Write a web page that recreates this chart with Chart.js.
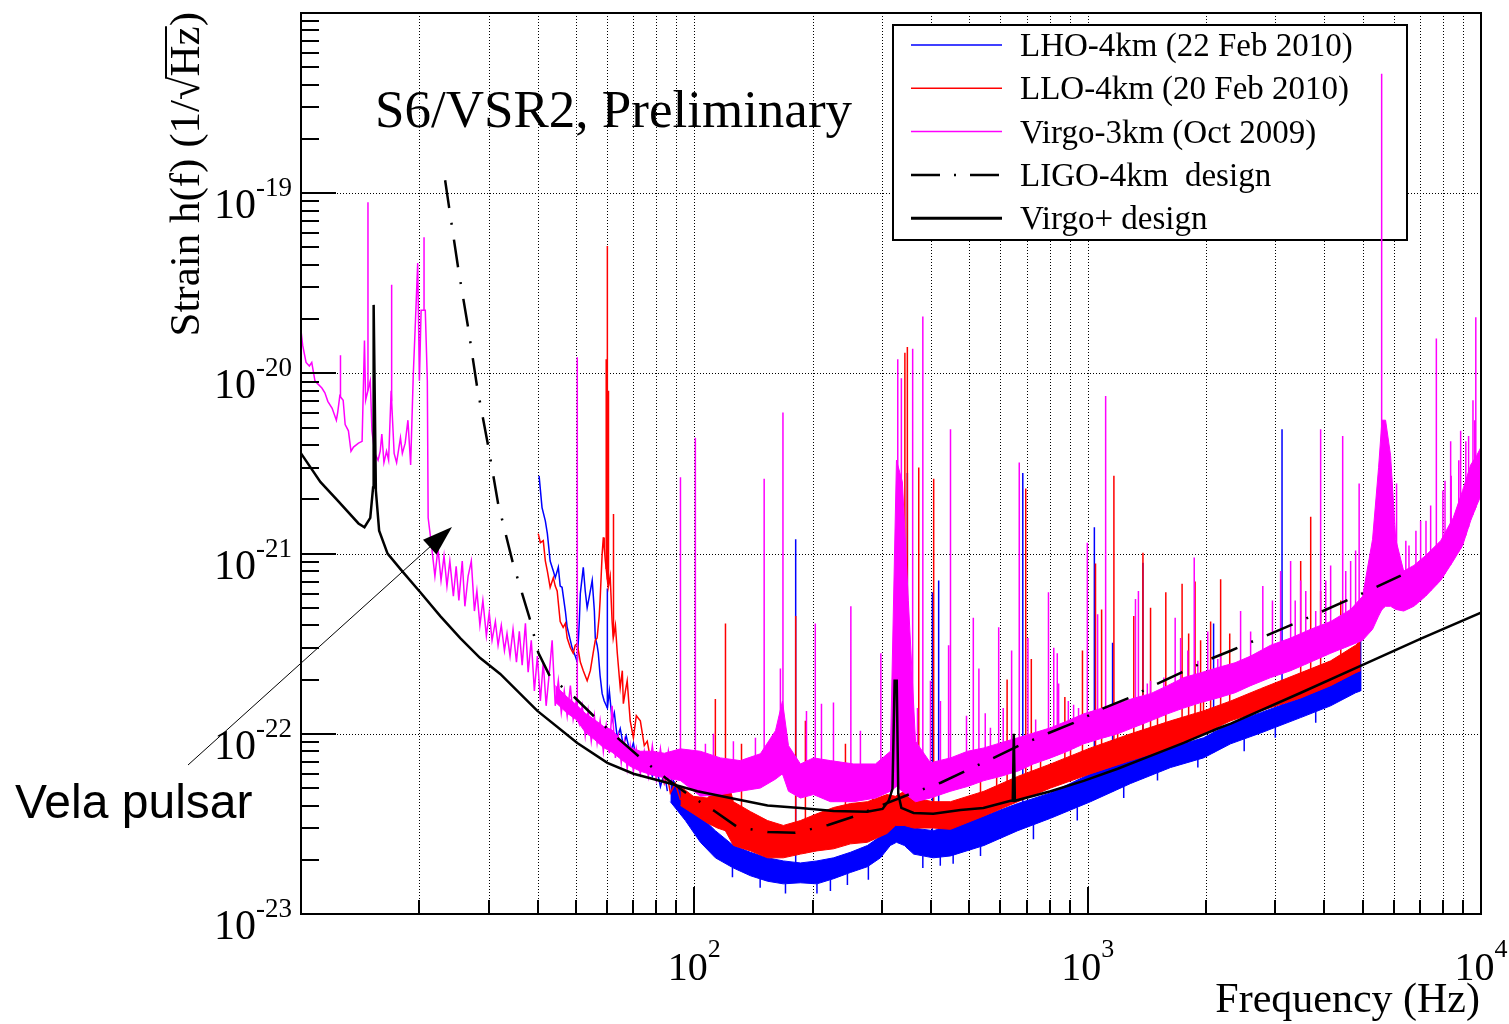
<!DOCTYPE html>
<html>
<head>
<meta charset="utf-8">
<title>S6/VSR2 strain sensitivity</title>
<script src="https://cdn.jsdelivr.net/npm/chart.js@4.4.0/dist/chart.umd.min.js"></script>
<style>
  html, body { margin: 0; padding: 0; background: #fff; }
  #wrap { width: 1509px; height: 1024px; }
</style>
</head>
<body>
<div id="wrap"><canvas id="c" width="1509" height="1024"></canvas></div>
<script>
// values (Hz, strain 1/sqrt(Hz))

// LHO-4km: thin trace up to ~85 Hz, then a noise band, plus narrow lines
const lhoTraceHz = [40.3, 41.0, 41.8, 42.3, 43.0, 43.8, 44.3, 45.1, 45.6, 46.1, 47.0, 47.5, 48.4, 48.9, 49.8, 50.4, 51.0, 51.3, 51.9, 52.2, 52.8, 53.4, 54.1, 55.0, 55.7, 56.0, 56.6, 57.0, 57.6, 58.3, 59.0, 60.1, 60.8, 61.8, 62.6, 63.7, 64.8, 66.0, 67.1, 68.7, 70.0, 71.2, 72.9, 74.6, 76.4, 78.2, 80.0, 82.0, 83.9, 85.4];
const lhoTrace = [2.7e-21, 1.8e-21, 1.52e-21, 1.29e-21, 9.1e-22, 8.0e-22, 7.35e-22, 8.4e-22, 6.6e-22, 6.5e-22, 4.8e-22, 3.9e-22, 3.3e-22, 3.0e-22, 2.7e-22, 2.5e-22, 4.2e-22, 6.0e-22, 7.5e-22, 8.4e-22, 6.2e-22, 5.0e-22, 5.8e-22, 7.1e-22, 4.8e-22, 3.4e-22, 3.1e-22, 2.8e-22, 2.1e-22, 1.67e-22, 1.52e-22, 1.39e-22, 1.73e-22, 1.18e-22, 1.31e-22, 9.5e-23, 1.07e-22, 8.6e-23, 9.75e-23, 7.8e-23, 8.9e-23, 7.1e-23, 7.8e-23, 6.4e-23, 7.3e-23, 5.8e-23, 6.6e-23, 5.1e-23, 6.1e-23, 4.8e-23];
const lhoHz = [86.9, 94.9, 103.6, 113.1, 125.7, 138.9, 153.5, 168.4, 186.1, 205, 226, 249.4, 275.5, 297.3, 315, 326.5, 342, 361, 405, 448, 545, 664, 805, 1017, 1286, 1625, 1970, 2309, 2752, 3479, 4147, 4800, 4943];
const lhoHigh = [5.8e-23, 4.5e-23, 3.5e-23, 2.9e-23, 2.4e-23, 2.2e-23, 2.05e-23, 1.97e-23, 1.92e-23, 1.97e-23, 2.05e-23, 2.2e-23, 2.4e-23, 2.7e-23, 3.3e-23, 4.2e-23, 3.6e-23, 3.0e-23, 2.9e-23, 3.1e-23, 3.5e-23, 4.1e-23, 4.7e-23, 6.0e-23, 7.1e-23, 8.4e-23, 9.5e-23, 1.14e-22, 1.31e-22, 1.58e-22, 1.9e-22, 2.3e-22, 2.7e-22];
const lhoLow = [4.2e-23, 3.3e-23, 2.5e-23, 2.05e-23, 1.8e-23, 1.63e-23, 1.52e-23, 1.47e-23, 1.49e-23, 1.47e-23, 1.57e-23, 1.7e-23, 1.83e-23, 2.05e-23, 2.4e-23, 2.5e-23, 2.4e-23, 2.15e-23, 2.05e-23, 2.1e-23, 2.4e-23, 2.9e-23, 3.4e-23, 4.2e-23, 5.3e-23, 6.5e-23, 7.35e-23, 8.8e-23, 1.01e-22, 1.23e-22, 1.43e-22, 1.69e-22, 1.73e-22];
const lhoLineHz = [60.1, 181, 348, 403, 418, 684, 1040, 1157, 1382, 2090, 3120, 4943, 125, 147, 170.5, 205, 221.8, 245, 277, 381, 422, 455, 534, 728, 941, 1235, 1505, 1906, 2500, 3000, 3800];
const lhoLineTop = [6.4e-22, 1.2e-21, 2.8e-21, 6.1e-22, 7.1e-22, 2.8e-21, 1.4e-21, 3.2e-22, 8.9e-22, 4.1e-22, 4.9e-21, 4.5e-22, 1.6e-23, 1.4e-23, 1.3e-23, 1.3e-23, 1.34e-23, 1.45e-23, 1.55e-23, 1.8e-23, 1.85e-23, 1.9e-23, 2.1e-23, 2.6e-23, 3.3e-23, 4.4e-23, 5.5e-23, 6.5e-23, 8.0e-23, 9.5e-23, 1.15e-22];

// LLO-4km
const lloTraceHz = [40.1, 40.6, 41.3, 41.8, 42.3, 43.0, 43.8, 44.3, 44.8, 45.6, 46.4, 47.0, 47.5, 48.4, 49.2, 49.8, 50.4, 51.3, 52.2, 53.4, 54.4, 55.3, 56.0, 56.6, 57.3, 57.6, 58.3, 58.7, 59.4, 60.4, 61.1, 61.8, 62.2, 63.0, 63.7, 64.8, 65.6, 66.0, 66.8, 67.5, 68.7, 70.0, 71.2, 72.9, 74.6, 75.9, 77.3, 78.7, 80.5, 82.0, 83.9, 85.4, 86.9, 89.5, 92.2];
const lloTrace = [1.29e-21, 1.15e-21, 1.18e-21, 9.1e-22, 8.0e-22, 6.5e-22, 7.35e-22, 6.6e-22, 6.2e-22, 4.2e-22, 3.9e-22, 4.1e-22, 3.4e-22, 3.0e-22, 2.8e-22, 3.1e-22, 3.16e-22, 2.5e-22, 2.24e-22, 1.97e-22, 2.24e-22, 2.8e-22, 3.3e-22, 3.4e-22, 4.5e-22, 5.5e-22, 1.0e-21, 1.23e-21, 9.1e-22, 6.5e-22, 7.5e-22, 4.2e-22, 3.4e-22, 4.0e-22, 2.8e-22, 1.8e-22, 2.24e-22, 1.47e-22, 1.73e-22, 1.97e-22, 1.18e-22, 9.5e-23, 1.26e-22, 1.18e-22, 8.6e-23, 9.1e-23, 7.3e-23, 7.75e-23, 6.2e-23, 6.9e-23, 5.3e-23, 5.8e-23, 4.7e-23, 5.3e-23, 4.3e-23];
const lloHz = [92.2, 99.4, 107.9, 114.4, 119.9, 125.7, 138.9, 153.5, 168.4, 186.1, 205, 226, 249.4, 275.5, 309, 324.6, 342, 361, 405, 448, 545, 664, 805, 1017, 1286, 1625, 1970, 2309, 2752, 3479, 4147, 4800, 4943];
const lloHigh = [5.1e-23, 4.5e-23, 4.4e-23, 5.0e-23, 6.2e-23, 4.2e-23, 3.7e-23, 3.3e-23, 3.1e-23, 3.3e-23, 3.6e-23, 3.9e-23, 4.1e-23, 4.2e-23, 4.6e-23, 4.5e-23, 4.8e-23, 4.4e-23, 4.2e-23, 4.2e-23, 4.8e-23, 5.8e-23, 6.8e-23, 8.35e-23, 1.0e-22, 1.18e-22, 1.34e-22, 1.52e-22, 1.78e-22, 2.18e-22, 2.54e-22, 3.1e-22, 3.3e-22];
const lloLow = [4.0e-23, 3.6e-23, 3.2e-23, 3.0e-23, 2.9e-23, 2.4e-23, 2.24e-23, 2.05e-23, 2.05e-23, 2.15e-23, 2.24e-23, 2.3e-23, 2.45e-23, 2.5e-23, 2.8e-23, 3.1e-23, 3.1e-23, 3.0e-23, 3.0e-23, 2.95e-23, 3.5e-23, 4.2e-23, 5.0e-23, 6.0e-23, 7.1e-23, 8.35e-23, 1.0e-22, 1.18e-22, 1.34e-22, 1.58e-22, 1.85e-22, 2.18e-22, 2.24e-22];
const lloLineHz = [59.0, 59.7, 60.1, 60.5, 62.3, 120, 181, 343, 348, 372, 406, 624, 696, 719, 875, 970, 1047, 1085, 1166, 1310, 1382, 1445, 1580, 1738, 1806, 1875, 1937, 2054, 2178, 2297, 3480, 3690, 3911, 4400, 113.1, 131.8, 191.6, 242.2, 284, 371.5, 534, 587, 759, 904.6, 1192, 1505, 1970];
const lloLineTop = [1.23e-21, 1.2e-20, 5.1e-20, 8.0e-21, 1.66e-21, 4.1e-22, 4.5e-22, 1.3e-20, 1.4e-20, 3.0e-21, 2.6e-21, 2.0e-22, 2.3e-21, 2.6e-22, 1.6e-22, 2.9e-22, 8.8e-22, 4.9e-22, 2.7e-21, 4.5e-22, 1.01e-21, 5.0e-22, 6.1e-22, 6.8e-22, 3.6e-22, 7.0e-22, 3.3e-22, 4.2e-22, 7.2e-22, 3.6e-22, 9.1e-22, 1.6e-21, 6.2e-22, 5.5e-22, 1.56e-22, 8.8e-23, 1.18e-22, 8.8e-23, 6.8e-23, 7.75e-23, 6.2e-23, 7.75e-23, 9.1e-23, 1.18e-22, 1.29e-22, 1.67e-22, 1.97e-22];

// Virgo-3km: jagged trace up to ~92 Hz, noise band from ~44 Hz
const virgoTraceHz = [10.0, 10.1, 10.3, 10.5, 10.65, 10.85, 11.0, 11.3, 11.5, 11.7, 12.0, 12.3, 12.4, 12.55, 12.8, 12.95, 13.2, 13.4, 13.6, 14.0, 14.3, 14.5, 14.6, 15.0, 15.15, 15.4, 15.7, 15.9, 16.05, 16.25, 16.5, 16.7, 16.95, 17.25, 17.5, 17.9, 18.1, 18.4, 18.7, 19.0, 19.3, 19.5, 19.8, 20.0, 20.2, 20.7, 20.95, 21.05, 21.4,
    21.9, 22.3, 22.7, 23.1, 23.5, 23.9, 24.4, 24.8, 25.2, 25.7, 26.1, 26.6, 27.1, 27.6, 28.0, 28.5, 29.0, 29.6, 30.1, 30.6, 31.2, 31.7, 32.3, 32.9, 33.4, 34.0, 34.6, 35.3, 35.9, 36.5, 37.2, 37.8, 38.5, 39.2, 39.9, 40.6, 41.3, 42.0, 42.8, 43.5, 44.3, 45.1, 45.9, 46.7, 47.5, 48.4, 49.2, 50.1, 51.0, 51.9, 52.8, 53.7, 54.7, 55.7, 56.6, 57.6, 58.7, 59.7, 60.8, 61.8, 63.0, 64.1, 65.2, 66.4, 67.5, 68.7, 70.0, 71.2, 72.9, 74.6, 76.4, 78.2, 80.0, 82.0, 83.9, 85.9, 87.9, 90.0, 92.2];
const virgoTrace = [1.73e-20, 1.43e-20, 1.15e-20, 1.1e-20, 1.15e-20, 9.1e-21, 8.8e-21, 8.3e-21, 7.8e-21, 7.0e-21, 6.4e-21, 5.5e-21, 6.1e-21, 7.5e-21, 7.1e-21, 5.2e-21, 4.8e-21, 3.7e-21, 3.9e-21, 4.1e-21, 4.2e-21, 1.52e-20, 7.1e-21, 9.1e-21, 4.8e-21, 3.6e-21, 3.3e-21, 3.7e-21, 4.6e-21, 3.2e-21, 3.7e-21, 3.3e-21, 8.0e-21, 3.6e-21, 3.2e-21, 4.4e-21, 3.6e-21, 4.1e-21, 5.5e-21, 3.1e-21, 1.0e-20, 1.73e-20, 4.1e-20, 9.1e-21, 2.24e-20, 2.24e-20, 9.1e-21, 1.58e-21, 1.18e-21,
    7.5e-22, 1.07e-21, 7.1e-22, 9.7e-22, 6.6e-22, 9.1e-22, 5.8e-22, 8.5e-22, 5.5e-22, 9.1e-22, 5.1e-22, 7.5e-22, 9.1e-22, 4.8e-22, 6.2e-22, 4.0e-22, 5.5e-22, 3.5e-22, 4.7e-22, 3.3e-22, 4.2e-22, 3.1e-22, 4.0e-22, 2.9e-22, 3.6e-22, 2.7e-22, 3.8e-22, 2.5e-22, 3.7e-22, 2.4e-22, 4.1e-22, 2.2e-22, 3.3e-22, 1.73e-22, 2.7e-22, 1.52e-22, 2.5e-22, 1.43e-22, 2.2e-22, 3.3e-22, 1.43e-22, 1.97e-22, 1.31e-22, 1.73e-22, 1.26e-22, 1.85e-22, 1.21e-22, 1.52e-22, 1.15e-22, 1.43e-22, 9.75e-23, 1.34e-22, 9.1e-23, 1.26e-22, 8.9e-23, 1.18e-22, 8.0e-23, 1.11e-22, 7.8e-23, 1.43e-22, 7.35e-23, 9.75e-23, 6.9e-23, 9.1e-23, 6.4e-23, 8.6e-23, 6.2e-23, 8.25e-23, 6.0e-23, 8.0e-23, 5.8e-23, 8.6e-23, 5.6e-23, 8.25e-23, 5.5e-23, 8.0e-23, 5.6e-23, 7.8e-23, 5.5e-23];
const virgoHz = [44.3, 47.5, 50.1, 52.8, 55.7, 58.7, 61.8, 65.2, 68.7, 72.9, 78.2, 83.9, 92.2, 103.6, 116.5, 130.9, 147.2, 160.8, 167.5, 173.5, 186.1, 200.8, 221.8, 254.3, 288.7, 315.2, 326.5, 338, 350, 365, 398.4, 448, 495, 545, 600, 664, 728, 805, 889, 977, 1078, 1192, 1303, 1445, 1596, 1754, 1937, 2142, 2370, 2596, 2918, 3281, 3688, 4147, 4662, 5000, 5300, 5490, 5600, 5720, 5890, 6070, 6360, 6750, 7230, 7900, 8500, 8980, 9410, 9750, 10000];
const virgoHigh = [1.85e-22, 1.6e-22, 1.45e-22, 1.3e-22, 1.2e-22, 1.1e-22, 1.05e-22, 9.2e-23, 8.4e-23, 8.0e-23, 8.0e-23, 7.8e-23, 8.25e-23, 8.0e-23, 7.35e-23, 7.1e-23, 7.75e-23, 1.04e-22, 1.52e-22, 8.6e-23, 6.8e-23, 7.35e-23, 7.1e-23, 6.8e-23, 6.8e-23, 8.0e-23, 3.3e-21, 2.5e-21, 5.5e-22, 9.1e-23, 6.9e-23, 7.35e-23, 8.0e-23, 8.35e-23, 8.9e-23, 9.5e-23, 1.01e-22, 1.08e-22, 1.18e-22, 1.29e-22, 1.38e-22, 1.47e-22, 1.57e-22, 1.67e-22, 1.85e-22, 2.05e-22, 2.18e-22, 2.33e-22, 2.48e-22, 2.7e-22, 3.1e-22, 3.4e-22, 3.8e-22, 4.2e-22, 4.9e-22, 5.8e-22, 1.2e-21, 3.0e-21, 5.5e-21, 5.5e-21, 3.5e-21, 1.2e-21, 8.0e-22, 8.6e-22, 9.75e-22, 1.18e-21, 1.58e-21, 2.24e-21, 3.1e-21, 3.5e-21, 3.9e-21];
const virgoLow = [1.5e-22, 1.3e-22, 1.2e-22, 1.02e-22, 9.3e-23, 8.4e-23, 7.9e-23, 7.2e-23, 6.6e-23, 6.2e-23, 5.9e-23, 5.7e-23, 5.5e-23, 4.5e-23, 4.6e-23, 4.8e-23, 5.0e-23, 5.6e-23, 6.0e-23, 4.8e-23, 4.4e-23, 4.6e-23, 4.2e-23, 4.2e-23, 4.4e-23, 4.8e-23, 5.1e-23, 4.8e-23, 4.5e-23, 4.2e-23, 4.4e-23, 4.8e-23, 5.1e-23, 5.5e-23, 5.8e-23, 6.2e-23, 6.8e-23, 7.35e-23, 8.0e-23, 8.8e-23, 9.4e-23, 1.0e-22, 1.08e-22, 1.18e-22, 1.29e-22, 1.39e-22, 1.49e-22, 1.58e-22, 1.69e-22, 1.85e-22, 2.05e-22, 2.24e-22, 2.5e-22, 2.8e-22, 3.1e-22, 3.3e-22, 3.8e-22, 4.5e-22, 4.9e-22, 5.1e-22, 5.1e-22, 4.9e-22, 4.8e-22, 5.1e-22, 5.8e-22, 7.1e-22, 9.1e-22, 1.11e-21, 1.52e-21, 1.85e-21, 2.1e-21];
const virgoLineHz = [12.6, 14.8, 17.0, 20.55, 50.4, 92.2, 100.6, 150.5, 168, 203, 250, 298, 329, 336, 359, 381, 448, 512, 529, 594, 670, 795, 837, 998, 1111, 1323, 1346, 1669, 1866, 3911, 4450, 4900, 5590, 6100, 7700, 8000, 8400, 9300, 9700,
    106.7, 111.8, 125.7, 143, 165.5, 192.8, 210.5, 225.8, 264.4, 369.3, 398.4, 422.4, 443, 492, 566, 640.7, 737.5, 843.7, 921, 1060, 1445, 1562, 1723, 1797, 2020, 2142, 2788, 3281, 3479, 4147, 4662, 6440, 6832, 7247, 8372, 8877, 9541,
    549, 610, 705, 820, 893, 948, 1418, 1906, 2178, 2448, 2596, 2950, 3094, 3370, 3585, 3800, 4030, 4530, 4800, 6560, 7023, 7447, 8100, 8780, 9150, 9640];
const virgoLineTop = [1.26e-20, 8.9e-20, 3.1e-20, 5.7e-20, 1.23e-20, 2.65e-21, 4.4e-21, 2.6e-21, 6.07e-21, 4.1e-22, 5.1e-22, 2.8e-22, 1.2e-20, 9.4e-21, 1.37e-20, 2.07e-20, 4.9e-21, 4.4e-22, 2.3e-22, 3.9e-22, 3.2e-21, 6.1e-22, 2.8e-22, 1.15e-21, 7.5e-21, 5.6e-22, 6.2e-22, 4.4e-22, 9.5e-22, 4.9e-21, 4.5e-21, 2.45e-21, 4.6e-19, 2.45e-21, 1.56e-20, 2.24e-21, 2.7e-21, 4.5e-21, 2.05e-20,
    8.8e-23, 1.0e-22, 9.1e-23, 9.5e-23, 2.3e-22, 1.34e-22, 1.47e-22, 1.49e-22, 1.04e-22, 1.39e-22, 1.97e-22, 1.52e-22, 3.1e-22, 1.26e-22, 1.08e-22, 2.9e-22, 1.2e-22, 1.9e-22, 1.45e-22, 4.6e-22, 1.97e-22, 2.05e-22, 3.4e-22, 2.9e-22, 3.7e-22, 2.6e-22, 6.6e-22, 9.1e-22, 7.1e-22, 8.6e-22, 9.1e-22, 1.18e-21, 1.34e-21, 1.52e-21, 4.2e-21, 4.8e-21, 7.1e-21,
    1.3e-22, 1.39e-22, 3.4e-22, 3.0e-22, 1.52e-22, 1.39e-22, 1.9e-22, 2.54e-22, 2.8e-22, 4.8e-22, 3.7e-22, 5.5e-22, 8.0e-22, 5.5e-22, 6.2e-22, 4.8e-22, 7.1e-22, 8.0e-22, 1.04e-21, 1.11e-21, 1.52e-21, 1.85e-21, 2.54e-21, 3.3e-21, 4.2e-21, 5.5e-21];

// design curves
const ligoDesignHz = [23.25, 23.8, 25.1, 26.6, 28.05, 29.9, 31.7, 34.6, 36.5, 38.3, 40.1, 43.0, 49.8, 56.0, 64.1, 72.9, 84.4, 96.0, 112.5, 128.6, 154, 180.6, 219, 257, 310, 354, 423, 490, 577, 667, 796, 921, 1091, 1271, 1506, 1724, 2057, 2311, 3484, 4670, 6250];
const ligoDesign = [1.18e-19, 8.35e-20, 3.83e-20, 1.8e-20, 8.35e-21, 3.98e-21, 1.9e-21, 8.8e-22, 6.0e-22, 4.24e-22, 2.82e-22, 2.07e-22, 1.58e-22, 1.23e-22, 9.4e-23, 7.36e-23, 5.7e-23, 4.64e-23, 3.73e-23, 3.04e-23, 2.85e-23, 2.82e-23, 3.12e-23, 3.5e-23, 4.14e-23, 4.64e-23, 5.35e-23, 6.23e-23, 7.36e-23, 8.57e-23, 1.01e-22, 1.15e-22, 1.38e-22, 1.58e-22, 1.9e-22, 2.18e-22, 2.61e-22, 2.89e-22, 4.24e-22, 5.62e-22, 7.55e-22];
const virgoDesignHz = [10, 11.2, 12.4, 14.0, 14.5, 15.0, 15.25, 15.3, 15.5, 15.8, 16.6, 17.9, 20.1, 22.6, 25.4, 28.5, 32.1, 39.9, 50.4, 60.1, 70.0, 85.4, 101.8, 123.5, 153.5, 186, 226, 275, 301, 312, 319, 323, 327, 330, 336, 361, 405, 475, 543, 637, 645, 649, 653, 805, 977, 1192, 1445, 1754, 2142, 2311, 3484, 4955, 7037, 10000];
const virgoDesign = [3.6e-21, 2.5e-21, 1.97e-21, 1.47e-21, 1.4e-21, 1.58e-21, 2.33e-21, 2.4e-20, 2.24e-21, 1.34e-21, 1.0e-21, 8.2e-22, 6.1e-22, 4.5e-22, 3.4e-22, 2.64e-22, 2.15e-22, 1.34e-22, 8.9e-23, 6.9e-23, 6.0e-23, 5.35e-23, 4.8e-23, 4.4e-23, 4.0e-23, 3.88e-23, 3.73e-23, 3.69e-23, 3.83e-23, 4.25e-23, 4.95e-23, 1.97e-22, 1.97e-22, 4.64e-23, 3.88e-23, 3.64e-23, 3.6e-23, 3.78e-23, 3.88e-23, 4.25e-23, 4.25e-23, 1.0e-22, 4.25e-23, 4.8e-23, 5.48e-23, 6.4e-23, 7.55e-23, 8.9e-23, 1.07e-22, 1.14e-22, 1.69e-22, 2.39e-22, 3.37e-22, 4.7e-22];

// axes
const xTickHz = [100, 1000, 10000];
const xTickExp = ['2', '3', '4'];
const yDecades = [1e-23, 1e-22, 1e-21, 1e-20, 1e-19];
const yTickExp = ['-23', '-22', '-21', '-20', '-19'];
const legendLabels = ['LHO-4km (22 Feb 2010)', 'LLO-4km (20 Feb 2010)', 'Virgo-3km (Oct 2009)', 'LIGO-4km  design', 'Virgo+ design'];

const SERIF = '"Liberation Serif", "Times New Roman", serif';
const SANS = '"Liberation Sans", Arial, sans-serif';
const BLUE = '#0000ff', RED = '#ff0000', MAGENTA = '#ff00ff';
const DASHDOT = [28, 15, 2, 15];

const xy = (hz, vals) => hz.map((f, i) => ({ x: f, y: vals[i] }));

// log-log lookup on a band edge, used only to attach the foot of a line to its band
function valueAt(f, hz, vals) {
    if (f <= hz[0]) return vals[0];
    for (let i = 1; i < hz.length; i++) {
        if (f <= hz[i]) {
            const t = Math.log(f / hz[i - 1]) / Math.log(hz[i] / hz[i - 1]);
            return Math.exp(Math.log(vals[i - 1]) + t * Math.log(vals[i] / vals[i - 1]));
        }
    }
    return vals[vals.length - 1];
}

// narrow lines: foot on the band, tip from the data, then a gap
function linePoints(hz, top, footOf) {
    const pts = [];
    hz.forEach((f, i) => {
        pts.push({ x: f, y: footOf(f) }, { x: f, y: top[i] }, { x: f, y: null });
    });
    return pts;
}

function bandSets(label, color, hz, low, high, order) {
    return [
        { label: label + ' low', data: xy(hz, low), borderColor: color, borderWidth: 1, fill: false, order },
        { label, data: xy(hz, high), borderColor: color, backgroundColor: color, borderWidth: 1, fill: '-1', order }
    ];
}

const footFrom = (traceHz, trace, hz, low) => f => f < hz[0] ? valueAt(f, traceHz, trace) : valueAt(f, hz, low);

const datasets = [
    { label: 'LHO trace', data: xy(lhoTraceHz, lhoTrace), borderColor: BLUE, borderWidth: 1.5, fill: false, order: 33 },
    ...bandSets('LHO', BLUE, lhoHz, lhoLow, lhoHigh, 32),
    { label: 'LHO lines', data: linePoints(lhoLineHz, lhoLineTop, footFrom(lhoTraceHz, lhoTrace, lhoHz, lhoLow)), borderColor: BLUE, borderWidth: 1.5, fill: false, order: 31 },
    { label: 'LLO trace', data: xy(lloTraceHz, lloTrace), borderColor: RED, borderWidth: 1.5, fill: false, order: 23 },
    ...bandSets('LLO', RED, lloHz, lloLow, lloHigh, 22),
    { label: 'LLO lines', data: linePoints(lloLineHz, lloLineTop, footFrom(lloTraceHz, lloTrace, lloHz, lloLow)), borderColor: RED, borderWidth: 1.5, fill: false, order: 21 },
    { label: 'Virgo trace', data: xy(virgoTraceHz, virgoTrace), borderColor: MAGENTA, borderWidth: 1.5, fill: false, order: 13 },
    ...bandSets('Virgo', MAGENTA, virgoHz, virgoLow, virgoHigh, 12),
    { label: 'Virgo lines', data: linePoints(virgoLineHz, virgoLineTop, footFrom(virgoTraceHz, virgoTrace, virgoHz, virgoLow)), borderColor: MAGENTA, borderWidth: 1.5, fill: false, order: 11 },
    { label: 'LIGO design', data: xy(ligoDesignHz, ligoDesign), borderColor: '#000', borderWidth: 2.5, borderDash: DASHDOT, fill: false, order: 1 },
    { label: 'Virgo+ design', data: xy(virgoDesignHz, virgoDesign), borderColor: '#000', borderWidth: 2.5, fill: false, order: 0 }
];

const legendStyles = [
    { color: BLUE, width: 1.5 },
    { color: RED, width: 1.5 },
    { color: MAGENTA, width: 1.5 },
    { color: '#000', width: 2.5, dash: [29, 14, 2, 14] },
    { color: '#000', width: 3 }
];

function drawLegend(ctx) {
    const l = 893, t = 25, r = 1407, b = 240;
    ctx.fillStyle = '#fff';
    ctx.fillRect(l, t, r - l, b - t);
    ctx.strokeStyle = '#000';
    ctx.lineWidth = 2;
    ctx.strokeRect(l, t, r - l, b - t);
    legendLabels.forEach((text, i) => {
        const yy = 45 + i * 43.3;
        const st = legendStyles[i];
        ctx.beginPath();
        ctx.strokeStyle = st.color;
        ctx.lineWidth = st.width;
        ctx.setLineDash(st.dash || []);
        ctx.moveTo(911, yy);
        ctx.lineTo(1002, yy);
        ctx.stroke();
        ctx.setLineDash([]);
        ctx.fillStyle = '#000';
        ctx.font = `33px ${SERIF}`;
        ctx.textAlign = 'left';
        ctx.textBaseline = 'alphabetic';
        ctx.fillText(text, 1020, yy + 11);
    });
}

// ROOT-like frame: dotted grid, inward ticks, 10^n labels, titles
const rootFrame = {
    id: 'rootFrame',
    beforeDatasetsDraw(chart) {
        const { ctx, chartArea: a, scales: { x, y } } = chart;
        ctx.save();
        ctx.strokeStyle = '#000';
        ctx.lineWidth = 1;
        ctx.setLineDash([1, 2]);
        ctx.beginPath();
        for (let d = 10; d < 10000; d *= 10) {
            for (let m = 1; m < 10; m++) {
                const f = m * d;
                if (f <= 10) continue;
                const px = Math.round(x.getPixelForValue(f)) + 0.5;
                ctx.moveTo(px, a.top);
                ctx.lineTo(px, a.bottom);
            }
        }
        yDecades.forEach(v => {
            if (v <= 1e-23) return;
            const py = Math.round(y.getPixelForValue(v)) + 0.5;
            ctx.moveTo(a.left, py);
            ctx.lineTo(a.right, py);
        });
        ctx.stroke();
        ctx.setLineDash([]);
        drawLegend(ctx);
        ctx.restore();
    },
    afterDatasetsDraw(chart) {
        const { ctx, chartArea: a, scales: { x, y } } = chart;
        ctx.save();

        // ticks
        ctx.strokeStyle = '#000';
        ctx.lineWidth = 2;
        ctx.beginPath();
        for (let e = -23; e <= -19; e++) {
            for (let m = 1; m < 10; m++) {
                const py = Math.round(y.getPixelForValue(m * Math.pow(10, e)));
                const len = m === 1 ? 35 : 18;
                ctx.moveTo(a.left, py);
                ctx.lineTo(a.left + len, py);
            }
        }
        for (let d = 10; d < 10000; d *= 10) {
            for (let m = 1; m < 10; m++) {
                const px = Math.round(x.getPixelForValue(m * d));
                const len = m === 1 ? 27 : 14;
                ctx.moveTo(px, a.bottom);
                ctx.lineTo(px, a.bottom - len);
            }
        }
        ctx.stroke();

        // frame
        ctx.strokeRect(a.left, a.top, a.right - a.left, a.bottom - a.top);

        // tick labels
        ctx.fillStyle = '#000';
        ctx.textAlign = 'left';
        ctx.textBaseline = 'alphabetic';
        yTickExp.forEach((ex, i) => {
            const py = y.getPixelForValue(yDecades[i]);
            ctx.font = `27px ${SERIF}`;
            const we = ctx.measureText(ex).width;
            ctx.fillText(ex, 292 - we, py + 3);
            ctx.font = `42px ${SERIF}`;
            const wb = ctx.measureText('10').width;
            ctx.fillText('10', 292 - we - wb, py + 25);
        });
        xTickHz.forEach((f, i) => {
            const px = x.getPixelForValue(f);
            ctx.font = `40px ${SERIF}`;
            const wb = ctx.measureText('10').width;
            ctx.font = `26px ${SERIF}`;
            const we = ctx.measureText(xTickExp[i]).width;
            const x0 = px - (wb + we) / 2;
            ctx.font = `40px ${SERIF}`;
            ctx.fillText('10', x0, 980);
            ctx.font = `26px ${SERIF}`;
            ctx.fillText(xTickExp[i], x0 + wb, 957);
        });

        // axis titles
        ctx.font = `42px ${SERIF}`;
        ctx.textAlign = 'right';
        ctx.fillText('Frequency (Hz)', 1480, 1012);

        ctx.save();
        ctx.translate(199, 12);
        ctx.rotate(-Math.PI / 2);
        ctx.font = `43px ${SERIF}`;
        ctx.textAlign = 'left';
        const yt = 'Strain h(f) (1/\u221AHz)';
        const wAll = ctx.measureText(yt).width;
        const wPre = ctx.measureText('Strain h(f) (1/\u221A').width;
        const wHz = ctx.measureText('Hz').width;
        ctx.fillText(yt, -wAll, 0);
        ctx.lineWidth = 2;
        ctx.beginPath();
        ctx.moveTo(-wAll + wPre - 2, -33);
        ctx.lineTo(-wAll + wPre + wHz, -33);
        ctx.stroke();
        ctx.restore();

        // label inside the frame
        ctx.textAlign = 'left';
        ctx.font = `53px ${SERIF}`;
        ctx.fillText('S6/VSR2, Preliminary', 375, 127);

        // Vela pulsar note with arrow
        ctx.font = `48px ${SANS}`;
        ctx.fillText('Vela pulsar', 15, 818);
        const sx = 188, sy = 765, tx = 452, ty = 527;
        const len = Math.hypot(tx - sx, ty - sy);
        const ux = (tx - sx) / len, uy = (ty - sy) / len;
        ctx.lineWidth = 1;
        ctx.beginPath();
        ctx.moveTo(sx, sy);
        ctx.lineTo(tx - ux * 20, ty - uy * 20);
        ctx.stroke();
        const bx = tx - ux * 30, by = ty - uy * 30;
        ctx.beginPath();
        ctx.moveTo(tx, ty);
        ctx.lineTo(bx - uy * 10, by + ux * 10);
        ctx.lineTo(bx + uy * 10, by - ux * 10);
        ctx.closePath();
        ctx.fill();

        ctx.restore();
    }
};

new Chart(document.getElementById('c'), {
    type: 'line',
    data: { datasets },
    options: {
        responsive: false,
        animation: false,
        devicePixelRatio: 1,
        layout: { padding: { left: 301, right: 28, top: 13, bottom: 110 } },
        scales: {
            x: { type: 'logarithmic', min: 10, max: 10000, display: false },
            y: { type: 'logarithmic', min: 1e-23, max: 1e-18, display: false }
        },
        plugins: { legend: { display: false }, tooltip: { enabled: false } },
        elements: { point: { radius: 0 }, line: { tension: 0 } }
    },
    plugins: [rootFrame]
});
</script>
</body>
</html>
